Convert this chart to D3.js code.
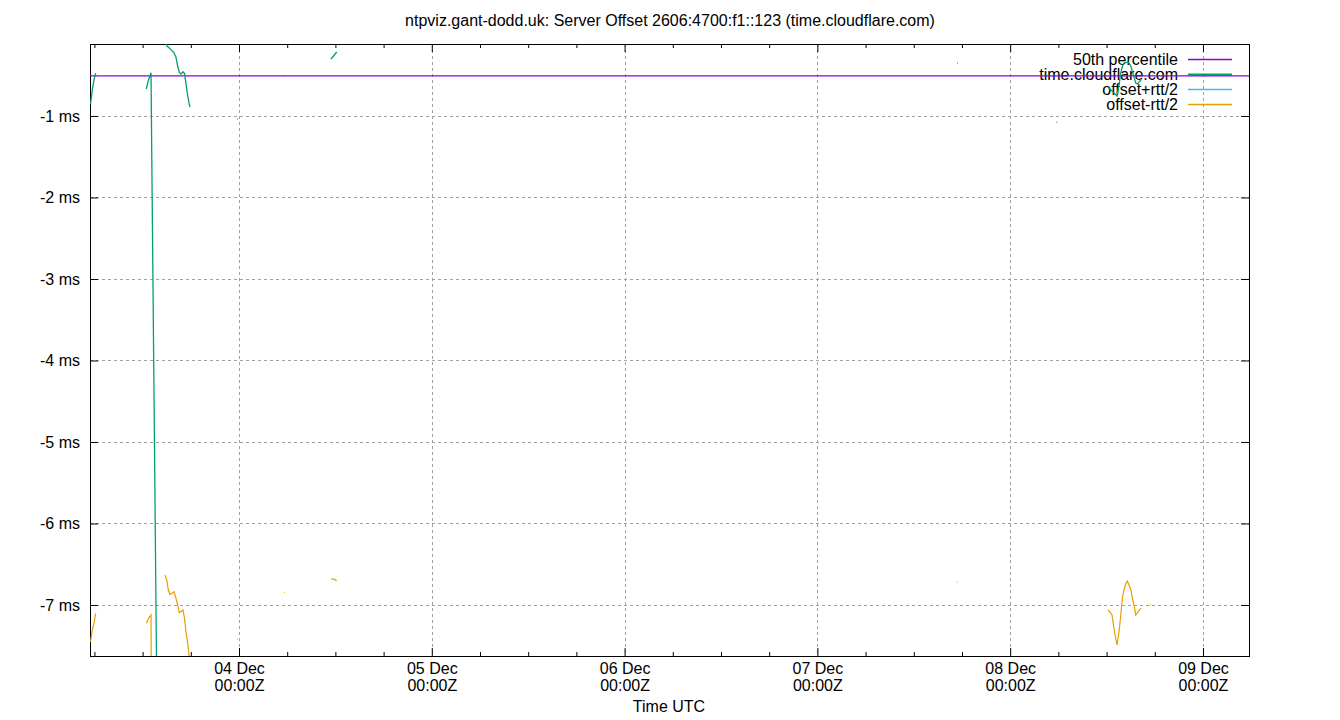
<!DOCTYPE html>
<html>
<head>
<meta charset="utf-8">
<script src="https://cdn.jsdelivr.net/npm/d3@7/dist/d3.min.js"></script>
<style>
    body { margin: 0; background: #fff; }
    text { font-family: "Liberation Sans", Arial, sans-serif; font-size: 16px; fill: #000; }
</style>
</head>
<body>
<svg id="chart" width="1340" height="720"></svg>
<script>
// hours after 03 Dec 00:00Z, null = gap in the samples
var hours = [
    5.514, 5.738, 5.950, 6.162, null,
    12.460, 12.734, 13.046, 13.855, null,
    14.788, 15.000, 15.199, 15.411, 15.660, 15.909, 16.158, 16.369, 16.569, 16.780, 17.029, 17.216, 17.402, 17.614, 17.776, 17.900, null,
    23.751, 23.851, null,
    29.602, 29.701, null,
    35.452, 35.826, 36.162, null,
    113.378, 113.477, null,
    125.764, 125.863, null,
    132.178, 132.427, 132.676, 133.050, 133.299, 133.548, 133.797, 133.983, 134.170, 134.382, 134.581, 134.793, 135.004, 135.203, 135.415, 135.627, 135.826, 136.286, null,
    137.407, 137.506
];

// time.cloudflare.com offset, ms
var offset = [
    -0.853, -0.681, -0.558, -0.476, null,
    -0.669, -0.558, -0.469, -9.0, null,
    -0.05, -0.141, -0.155, -0.174, -0.198, -0.225, -0.28, -0.39, -0.463, -0.486, -0.457, -0.479, -0.603, -0.754, -0.84, -0.89, null,
    -1.037, -1.040, null,
    -0.503, -0.505, null,
    -0.301, -0.258, -0.215, null,
    -0.350, -0.352, null,
    -1.074, -1.076, null,
    -0.644, -0.669, -0.693, -0.730, -0.755, -0.620, -0.460, -0.387, -0.350, -0.344, -0.337, -0.350, -0.387, -0.448, -0.521, -0.595, -0.607, -0.558, null,
    -0.45, -0.452
];

// offset+rtt/2, ms (all above the plotted range)
var offsetPlus = [
    5.75, 5.94, 6.11, 6.15, null,
    5.89, 6.05, 6.19, 7.0, null,
    6.53, 6.41, 6.51, 6.52, 6.46, 6.39, 6.38, 6.22, 6.17, 6.10, 6.15, 6.22, 6.13, 5.97, 5.93, 5.97, null,
    5.34, 5.34, null,
    5.84, 5.84, null,
    6.08, 6.17, 6.27, null,
    6.02, 6.02, null,
    5.65, 5.67, null,
    5.77, 5.75, 5.74, 5.91, 5.98, 6.09, 6.18, 6.13, 6.12, 6.05, 6.03, 6.06, 6.03, 6.02, 5.96, 5.93, 5.88, 5.92, null,
    6.09, 6.09
];

// offset-rtt/2, ms
var offsetMinus = [
    -7.454, -7.307, -7.225, -7.102, null,
    -7.225, -7.163, -7.123, -25.0, null,
    -6.632, -6.693, -6.816, -6.869, -6.856, -6.837, -6.918, -7.0, -7.09, -7.082, -7.061, -7.163, -7.327, -7.47, -7.614, -7.75, null,
    -7.417, -7.420, null,
    -6.844, -6.846, null,
    -6.681, -6.683, -6.702, null,
    -6.718, -6.720, null,
    -7.80, -7.82, null,
    -7.061, -7.086, -7.123, -7.368, -7.491, -7.331, -7.098, -6.902, -6.816, -6.742, -6.706, -6.755, -6.804, -6.914, -7.0, -7.123, -7.098, -7.037, null,
    -6.991, -6.993
];

var median = -0.509;
var yTicks = [-7, -6, -5, -4, -3, -2, -1];
var dayTicks = [24, 48, 72, 96, 120, 144];
var dayLabels = ["04 Dec", "05 Dec", "06 Dec", "07 Dec", "08 Dec", "09 Dec"];
var xRange = [5.452, 149.73];
var yRange = [-7.626, -0.117];

var legendNames = ["50th percentile", "time.cloudflare.com", "offset+rtt/2", "offset-rtt/2"];
var colors = ["#9400d3", "#009e73", "#56b4e9", "#e69f00"];

(function () {
    var base = Date.UTC(2023, 11, 3, 0, 0, 0);
    var toDate = function (h) { return new Date(base + h * 3600000); };

    var plotLeft = 90, plotRight = 1249, plotTop = 44, plotBottom = 656;

    var svg = d3.select("#chart");

    var x = d3.scaleUtc()
        .domain(xRange.map(toDate))
        .range([plotLeft, plotRight]);

    var y = d3.scaleLinear()
        .domain(yRange)
        .range([plotBottom, plotTop]);

    // grid
    var grid = svg.append("g");
    grid.selectAll("line.gy")
        .data(yTicks)
        .enter()
        .append("line")
        .attr("x1", plotLeft).attr("x2", plotRight)
        .attr("y1", function (d) { return Math.round(y(d)) + 0.5; })
        .attr("y2", function (d) { return Math.round(y(d)) + 0.5; });
    grid.selectAll("line.gx")
        .data(dayTicks)
        .enter()
        .append("line")
        .attr("y1", plotTop).attr("y2", plotBottom)
        .attr("x1", function (d) { return Math.round(x(toDate(d))) + 0.5; })
        .attr("x2", function (d) { return Math.round(x(toDate(d))) + 0.5; });
    grid.selectAll("line")
        .attr("stroke", "#a0a0a0")
        .attr("stroke-width", 1)
        .attr("stroke-dasharray", "3,3");

    // axes, ticks inward like gnuplot
    var minorTicks = d3.range(6, 150, 6).filter(function (h) {
        return h % 24 !== 0 && h > xRange[0] && h < xRange[1];
    });

    var yAxis = d3.axisLeft(y)
        .tickValues(yTicks)
        .tickSize(-8)
        .tickPadding(10)
        .tickFormat(function (d) { return d + " ms"; });
    svg.append("g").attr("class", "axis")
        .attr("transform", "translate(" + plotLeft + ",0)")
        .call(yAxis);

    svg.append("g").attr("class", "axis")
        .attr("transform", "translate(" + plotRight + ",0)")
        .call(d3.axisRight(y).tickValues(yTicks).tickSize(-8).tickFormat(""));

    var xAxis = d3.axisBottom(x)
        .tickValues(dayTicks.map(toDate))
        .tickSize(-8)
        .tickFormat(function (d, i) { return dayLabels[i]; });
    var xg = svg.append("g").attr("class", "axis")
        .attr("transform", "translate(0," + plotBottom + ")")
        .call(xAxis);
    xg.selectAll(".tick text").each(function (d, i) {
        var t = d3.select(this);
        t.text(null).attr("y", 0).attr("dy", null);
        t.append("tspan").attr("x", 0).attr("y", 18).text(dayLabels[i]);
        t.append("tspan").attr("x", 0).attr("y", 35).text("00:00Z");
    });
    svg.append("g").attr("class", "axis")
        .attr("transform", "translate(0," + plotBottom + ")")
        .call(d3.axisBottom(x).tickValues(minorTicks.map(toDate)).tickSize(-4).tickFormat(""));

    svg.append("g").attr("class", "axis")
        .attr("transform", "translate(0," + plotTop + ")")
        .call(d3.axisTop(x).tickValues(dayTicks.map(toDate)).tickSize(-8).tickFormat(""));
    svg.append("g").attr("class", "axis")
        .attr("transform", "translate(0," + plotTop + ")")
        .call(d3.axisTop(x).tickValues(minorTicks.map(toDate)).tickSize(-4).tickFormat(""));

    svg.selectAll(".axis .domain").remove();
    svg.selectAll(".axis line").attr("stroke", "#000").attr("stroke-width", 1);
    svg.selectAll(".axis text").style("font-size", "16px").attr("fill", "#000")
        .style("font-family", "'Liberation Sans', Arial, sans-serif");

    // border
    svg.append("rect")
        .attr("x", plotLeft + 0.5).attr("y", plotTop + 0.5)
        .attr("width", plotRight - plotLeft).attr("height", plotBottom - plotTop)
        .attr("fill", "none").attr("stroke", "#000").attr("stroke-width", 1);

    // titles
    svg.append("text")
        .attr("x", 670).attr("y", 26)
        .attr("text-anchor", "middle")
        .text("ntpviz.gant-dodd.uk: Server Offset 2606:4700:f1::123 (time.cloudflare.com)");

    svg.append("text")
        .attr("x", 669).attr("y", 712)
        .attr("text-anchor", "middle")
        .text("Time UTC");

    // key
    var keyRows = svg.append("g").selectAll("g")
        .data(legendNames)
        .enter()
        .append("g")
        .attr("transform", function (d, i) { return "translate(0," + (59 + i * 15) + ")"; });
    keyRows.append("text")
        .attr("x", 1178).attr("y", 5.5)
        .attr("text-anchor", "end")
        .text(function (d) { return d; });
    keyRows.append("line")
        .attr("x1", 1188).attr("x2", 1232)
        .attr("y1", 0.5).attr("y2", 0.5)
        .attr("stroke", function (d, i) { return colors[i]; })
        .attr("stroke-width", function (d, i) { return i === 1 ? 2 : 1.3; });

    // data
    svg.append("clipPath").attr("id", "plotClip")
        .append("rect")
        .attr("x", plotLeft).attr("y", plotTop)
        .attr("width", plotRight - plotLeft).attr("height", plotBottom - plotTop);

    var plot = svg.append("g").attr("clip-path", "url(#plotClip)");

    var makeRows = function (vals) {
        return hours.map(function (h, i) {
            return { t: h == null ? null : toDate(h), v: vals[i] };
        });
    };

    var line = d3.line()
        .defined(function (d) { return d.t != null && d.v != null; })
        .x(function (d) { return x(d.t); })
        .y(function (d) { return y(d.v); });

    plot.append("line")
        .attr("x1", x(toDate(xRange[0]))).attr("x2", x(toDate(xRange[1])))
        .attr("y1", y(median)).attr("y2", y(median))
        .attr("stroke", colors[0])
        .attr("stroke-width", 1.3);

    var series = [offset, offsetPlus, offsetMinus];
    var widths = [1.3, 1.2, 1.2];
    series.forEach(function (vals, i) {
        plot.append("path")
            .datum(makeRows(vals))
            .attr("d", line)
            .attr("fill", "none")
            .attr("stroke", colors[i + 1])
            .attr("stroke-width", widths[i]);
    });
})();
</script>
</body>
</html>
